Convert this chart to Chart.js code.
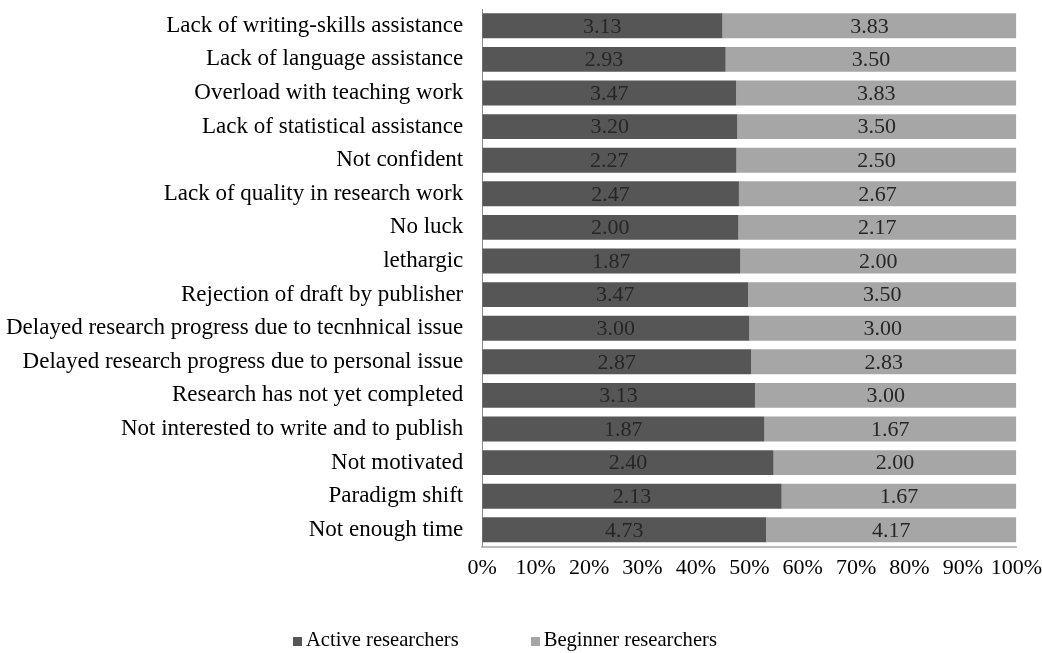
<!DOCTYPE html>
<html>
<head>
<meta charset="utf-8">
<script src="https://cdn.jsdelivr.net/npm/chart.js@4"></script>
<style>
  html, body { margin: 0; padding: 0; background: #fff; }
  .wrap { position: relative; width: 1042px; height: 653px; }
  #barrier-legend-container {
    position: absolute; left: 293px; top: 628px;
    display: flex; align-items: center;
    font-family: "Liberation Serif", "Times New Roman", serif;
    font-size: 20.6px; color: #000; white-space: nowrap;
  }
  .legend-item { display: flex; align-items: center; margin-right: 72px; }
  .color-box { display: inline-block; width: 9px; height: 9px; margin-right: 4px; margin-top: 3px; }
</style>
</head>
<body>
<div class="wrap">
  <canvas id="barrierChart" width="1042" height="653"></canvas>
  <div id="barrier-legend-container"></div>
</div>
<script>
const categories = [
    'Lack of writing-skills assistance',
    'Lack of language assistance',
    'Overload with teaching work',
    'Lack of statistical assistance',
    'Not confident',
    'Lack of quality in research work',
    'No luck',
    'lethargic',
    'Rejection of draft by publisher',
    'Delayed research progress due to tecnhnical issue',
    'Delayed research progress due to personal issue',
    'Research has not yet completed',
    'Not interested to write and to publish',
    'Not motivated',
    'Paradigm shift',
    'Not enough time'
];
const activeScores = [3.13, 2.93, 3.47, 3.20, 2.27, 2.47, 2.00, 1.87, 3.47, 3.00, 2.87, 3.13, 1.87, 2.40, 2.13, 4.73];
const beginnerScores = [3.83, 3.50, 3.83, 3.50, 2.50, 2.67, 2.17, 2.00, 3.50, 3.00, 2.83, 3.00, 1.67, 2.00, 1.67, 4.17];
const xTicks = [0, 10, 20, 30, 40, 50, 60, 70, 80, 90, 100];

const seriesNames = ['Active researchers', 'Beginner researchers'];
const seriesColors = ['#565656', '#a6a6a6'];

// 100% stacked: turn raw scores into shares of each row
const activeShare = activeScores.map((v, i) => v / (v + beginnerScores[i]) * 100);
const beginnerShare = beginnerScores.map((v, i) => v / (activeScores[i] + v) * 100);

const fontFamily = '"Liberation Serif", "Times New Roman", serif';

// draws the raw score in the middle of each bar segment
const rawValueLabels = {
    id: 'rawValueLabels',
    afterDatasetsDraw(chart) {
        const ctx = chart.ctx;
        ctx.save();
        ctx.font = '22px ' + fontFamily;
        ctx.fillStyle = '#262626';
        ctx.textAlign = 'center';
        ctx.textBaseline = 'middle';
        chart.data.datasets.forEach((ds, di) => {
            const meta = chart.getDatasetMeta(di);
            meta.data.forEach((bar, i) => {
                const mid = (bar.x + bar.base) / 2;
                ctx.fillText(ds.raw[i].toFixed(2), mid, bar.y + 1);
            });
        });
        ctx.restore();
    }
};

const barrierCtx = document.getElementById('barrierChart').getContext('2d');
const barrierChart = new Chart(barrierCtx, {
    type: 'bar',
    data: {
        labels: categories,
        datasets: [{
            label: seriesNames[0],
            data: activeShare,
            raw: activeScores,
            backgroundColor: seriesColors[0],
            barPercentage: 0.74,
            categoryPercentage: 1
        }, {
            label: seriesNames[1],
            data: beginnerShare,
            raw: beginnerScores,
            backgroundColor: seriesColors[1],
            barPercentage: 0.74,
            categoryPercentage: 1
        }]
    },
    options: {
        indexAxis: 'y',
        responsive: false,
        animation: false,
        layout: {
            padding: { left: -5, right: 4, top: 9, bottom: 72 }
        },
        plugins: {
            legend: { display: false },
            tooltip: { enabled: false }
        },
        scales: {
            x: {
                stacked: true,
                min: 0,
                max: 100,
                afterBuildTicks: function(axis) {
                    axis.ticks = xTicks.map(v => ({ value: v }));
                },
                grid: { display: false },
                border: { display: true, color: '#bdbdbd', width: 2 },
                ticks: {
                    color: '#000',
                    padding: 0,
                    autoSkip: false,
                    maxRotation: 0,
                    font: { family: fontFamily, size: 22 },
                    callback: function(value) {
                        return value + '%';
                    }
                }
            },
            y: {
                stacked: true,
                afterFit: function(axis) {
                    // no extra room above/below for the outer labels
                    axis.paddingTop = 0;
                    axis.paddingBottom = 0;
                },
                grid: { display: false },
                border: { display: true, color: '#8c8c8c', width: 1 },
                ticks: {
                    color: '#000',
                    padding: 11,
                    font: { family: fontFamily, size: 23 }
                }
            }
        }
    },
    plugins: [rawValueLabels]
});

function createBarrierLegend() {
    const container = document.getElementById('barrier-legend-container');
    container.innerHTML = '';
    seriesNames.forEach((name, i) => {
        const legendItem = document.createElement('div');
        legendItem.classList.add('legend-item');
        const colorBox = document.createElement('span');
        colorBox.classList.add('color-box');
        colorBox.style.backgroundColor = seriesColors[i];
        const labelSpan = document.createElement('span');
        labelSpan.textContent = name;
        legendItem.appendChild(colorBox);
        legendItem.appendChild(labelSpan);
        container.appendChild(legendItem);
    });
}

createBarrierLegend();
</script>
</body>
</html>
